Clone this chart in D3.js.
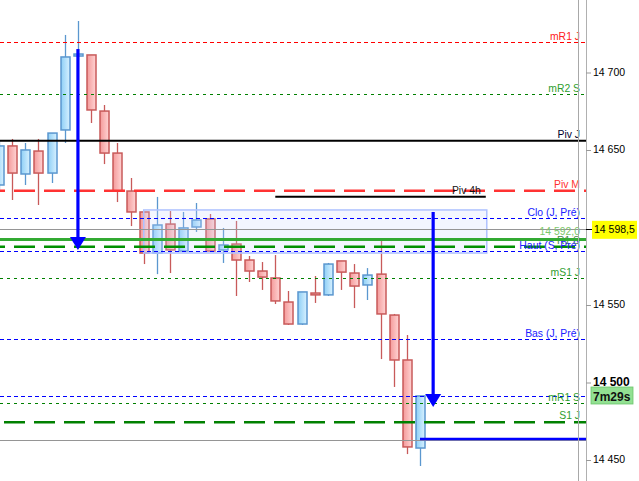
<!DOCTYPE html>
<html><head><meta charset="utf-8">
<script src="https://cdn.jsdelivr.net/npm/d3@7"></script>
<style>
html,body{margin:0;padding:0;background:#fff;overflow:hidden}
svg{display:block}
text{font-family:"Liberation Sans",Arial,sans-serif}
</style>
</head><body>
<svg id="c" width="639" height="481"></svg>
<script>
// ---------- DATA ----------
const bars = [0,1,2,3,4,5,6,7,8,9,10,11,12,13,14,15,16,17,18,19,20,21,22,23,24,25,26,27,28,29,30,31,32];
const opens  = [14627.1,14652.3,14634.2,14649.0,14634.8,14662.6,14710.3,14711.0,14674.8,14647.7,14623.2,14609.7,14583.2,14601.9,14584.5,14600.0,14605.2,14585.2,14589.0,14578.7,14571.6,14567.1,14551.6,14537.4,14557.4,14556.2,14578.1,14570.3,14562.6,14569.6,14543.2,14514.2,14457.4];
const highs  = [14656.1,14656.8,14654.2,14656.8,14660.6,14723.9,14732.9,14711.0,14678.7,14654.2,14631.6,14609.7,14619.4,14610.3,14609.7,14615.5,14608.4,14599.4,14603.9,14581.3,14577.4,14581.9,14558.7,14558.1,14568.4,14576.8,14578.1,14576.1,14573.5,14591.0,14543.9,14530.3,14491.0];
const lows   = [14623.9,14617.4,14627.1,14614.2,14628.4,14654.2,14707.7,14667.1,14640.6,14616.1,14600.6,14576.1,14569.6,14570.3,14584.5,14596.8,14583.9,14576.8,14555.5,14564.5,14559.4,14550.3,14536.8,14536.8,14551.0,14555.5,14559.4,14547.7,14552.9,14514.8,14496.8,14453.5,14445.8];
const closes = [14652.3,14634.8,14649.7,14634.8,14660.6,14709.7,14711.6,14675.5,14647.7,14623.2,14609.7,14583.2,14601.3,14585.2,14599.4,14604.5,14584.5,14588.4,14578.7,14571.6,14567.7,14552.3,14537.4,14558.1,14556.2,14576.1,14570.9,14561.9,14569.0,14543.9,14514.2,14458.1,14491.0];

// 14 600 is hidden behind the current-price label in the reference
const tickValues = [14450,14500,14550,14650,14700];

// horizontal levels (in drawing order); null = no label, "price" = label shows the price
const levelLabels = ["mR1 J","mR2 S","Piv J","Piv M","Clo (J, Pré)","R1 S","price","Haut (S, Pré)","mS1 J","Bas (J, Pré)",null,"mR1 S","S1 J"];
const levelPrices = [14719.2,14685.8,14655.7,14623.4,14605.6,14587.3,14592.0,14584.3,14567.1,14527.7,14491.2,14486.7,14474.1];
const levelKinds  = ["redDash","greenDot","black","redLong","blueDash","greenLong","greenSolid","blueDash","greenDot","blueDash","blueDash","greenDot","greenLong3"];

const currentPrice = 14598.5;
const bidLinePrice = 14462.6;
const lastLinePrice = 14463.2;
const piv4hLabel = "Piv 4h";
const piv4hPrice = 14619.5;
const piv4hBars = [21, 37];
const zoneBars = [11, 37];
const zonePrices = [14611.0, 14583.2];
const arrowBars = [6, 33];
const arrowFrom = [14714.8, 14609.7];
const arrowTo   = [14585.2, 14483.9];
const timerText = "7m29s";

// ---------- STYLES ----------
const kindStyle = {
  redDash:   {stroke:"#ff0000", w:1, dash:"4,3", label:"#ff2020"},
  greenDot:  {stroke:"#008000", w:1, dash:"3,4", label:"#2e9e2e"},
  black:     {stroke:"#000000", w:2, dash:null, label:"#000030"},
  redLong:   {stroke:"#ff3333", w:2.5, dash:"21,9", off:16, label:"#ff3030"},
  blueDash:  {stroke:"#0000ff", w:1, dash:"4,3", label:"#2020ff"},
  greenLong: {stroke:"#009000", w:2.5, dash:"21,9", off:16, label:"#4a8a4a"},
  greenLong3:{stroke:"#008000", w:2.5, dash:"21,9", off:26, label:"#2e9e2e"},
  greenSolid:{stroke:"#33aa33", w:3, dash:null, label:"#7cc86a"}
};

// ---------- SETUP ----------
const W = 639, H = 481, plotRight = 586, labelRight = 580;
const svg = d3.select("#c");
const x = d3.scaleLinear().domain([0, 32]).range([-1, 420]);
const y = d3.scaleLinear().domain([14450, 14700]).range([459.5, 72]);
const loc = d3.formatLocale({decimal:",", thousands:" ", grouping:[3], currency:["",""]});
const tickFmt = loc.format(",d");
const priceFmt = loc.format(",.1f");

const defs = svg.append("defs");
function grad(id, c1, c2) {
  const g = defs.append("linearGradient").attr("id", id).attr("x1","0").attr("x2","1").attr("y1","0").attr("y2","0");
  g.append("stop").attr("offset","0").attr("stop-color", c1);
  g.append("stop").attr("offset","1").attr("stop-color", c2);
}
grad("bear", "#f49a9a", "#ffd4d4");
grad("bull", "#8ecff6", "#d8f1ff");
defs.append("clipPath").attr("id","plot").append("rect").attr("x",0).attr("y",0).attr("width",plotRight).attr("height",H);

const plot = svg.append("g").attr("clip-path","url(#plot)");

// vertical separator lines
svg.append("line").attr("x1",578.5).attr("x2",578.5).attr("y1",0).attr("y2",H).attr("stroke","#a8a8a8").attr("stroke-width",1);
svg.append("line").attr("x1",plotRight+0.5).attr("x2",plotRight+0.5).attr("y1",0).attr("y2",H).attr("stroke","#b0b0b0").attr("stroke-width",1);

// candles
const candles = plot.append("g").selectAll("g").data(bars).join("g");
candles.each(function(i) {
  const g = d3.select(this);
  const up = closes[i] >= opens[i];
  const col = up ? "#5b97cf" : "#c85a5a";
  const cx = Math.round(x(i));
  g.append("line").attr("x1", cx+0.5).attr("x2", cx+0.5)
    .attr("y1", y(highs[i])).attr("y2", y(lows[i]))
    .attr("stroke", col).attr("stroke-width", 1.3);
  const yt = y(Math.max(opens[i], closes[i]));
  const yb = y(Math.min(opens[i], closes[i]));
  g.append("rect").attr("x", cx-4).attr("y", yt).attr("width", 9).attr("height", Math.max(1.5, yb-yt))
    .attr("fill", up ? "url(#bull)" : "url(#bear)").attr("stroke", col).attr("stroke-width", 1.5);
});

// zone rectangle
plot.append("rect")
  .attr("x", x(zoneBars[0])).attr("y", y(zonePrices[0]))
  .attr("width", x(zoneBars[1]) - x(zoneBars[0]) + 1).attr("height", y(zonePrices[1]) - y(zonePrices[0]))
  .attr("fill", "rgb(200,215,255)").attr("fill-opacity", 0.22)
  .attr("stroke", "#afc2ff").attr("stroke-width", 1.5);

// gray price lines
[currentPrice, bidLinePrice].forEach(p => {
  plot.append("line").attr("x1",0).attr("x2",plotRight).attr("y1",Math.round(y(p))+0.5).attr("y2",Math.round(y(p))+0.5)
    .attr("stroke","#959595").attr("stroke-width",1);
});

// levels
levelPrices.forEach((p, k) => {
  const s = kindStyle[levelKinds[k]];
  const yy = s.w === 1 ? Math.round(y(p)) + 0.5 : y(p);
  const ln = plot.append("line").attr("x1",0).attr("x2",plotRight).attr("y1",yy).attr("y2",yy)
    .attr("stroke", s.stroke).attr("stroke-width", s.w);
  if (s.dash) ln.attr("stroke-dasharray", s.dash).attr("stroke-dashoffset", s.off || 0);
  const raw = levelLabels[k];
  if (raw === null) return;
  const lbl = raw === "price" ? priceFmt(p) : raw;
  plot.append("text").attr("x", labelRight).attr("y", yy - (levelKinds[k]==="greenSolid" ? 4.5 : 3))
    .attr("text-anchor","end").attr("font-size", 10.4).attr("fill", s.label).text(lbl);
});

// Piv 4h segment
plot.append("line").attr("x1", x(piv4hBars[0])).attr("x2", x(piv4hBars[1]))
  .attr("y1", y(piv4hPrice)).attr("y2", y(piv4hPrice)).attr("stroke","#000").attr("stroke-width",2);
plot.append("text").attr("x", x(piv4hBars[1]) - 5).attr("y", y(piv4hPrice) - 3)
  .attr("text-anchor","end").attr("font-size",10.4).attr("fill","#111").text(piv4hLabel);

// last price line (blue)
plot.append("line").attr("x1", x(bars[bars.length-1])).attr("x2", plotRight)
  .attr("y1", y(lastLinePrice)).attr("y2", y(lastLinePrice)).attr("stroke","#0000ff").attr("stroke-width",2.5);

// arrows
arrowBars.forEach((b, k) => {
  const ax = x(b), y0 = y(arrowFrom[k]), y1 = y(arrowTo[k]);
  plot.append("line").attr("x1", ax).attr("x2", ax).attr("y1", y0).attr("y2", y1 - 6)
    .attr("stroke","#0000ff").attr("stroke-width",3.2);
  plot.append("path").attr("d", `M${ax-8},${y1-13} L${ax+8},${y1-13} L${ax},${y1} Z`).attr("fill","#0000ff");
});

// right axis
const axG = svg.append("g").attr("transform", `translate(${plotRight},0)`)
  .call(d3.axisRight(y).tickValues(tickValues).tickSize(5).tickPadding(2).tickFormat(tickFmt));
axG.select(".domain").remove();
axG.selectAll(".tick line").attr("stroke","#999").attr("transform","translate(0,0.5)");
axG.selectAll(".tick text").attr("font-size",10.5).attr("fill","#000").attr("font-family",'"Liberation Sans",Arial,sans-serif');
axG.selectAll(".tick").filter(d => d === 14500).select("text").attr("font-weight","bold").attr("font-size",12);

// current price label
const cy = y(currentPrice);
svg.append("line").attr("x1",plotRight).attr("x2",plotRight+6).attr("y1",Math.round(cy)+0.5).attr("y2",Math.round(cy)+0.5).attr("stroke","#000");
svg.append("rect").attr("x",592).attr("y",cy-8.5).attr("width",45).attr("height",18).attr("fill","#ffff00");
svg.append("text").attr("x",594).attr("y",cy+4).attr("font-size",10.5).attr("fill","#000").text(priceFmt(currentPrice));

// timer label
svg.append("rect").attr("x",591).attr("y",387).attr("width",42).attr("height",17).attr("fill","#92e092").attr("stroke","#6cc56c").attr("stroke-width",0.8);
svg.append("text").attr("x",593).attr("y",400.5).attr("font-size",12).attr("font-weight","bold").attr("fill","#111").text(timerText);
</script>
</body></html>
